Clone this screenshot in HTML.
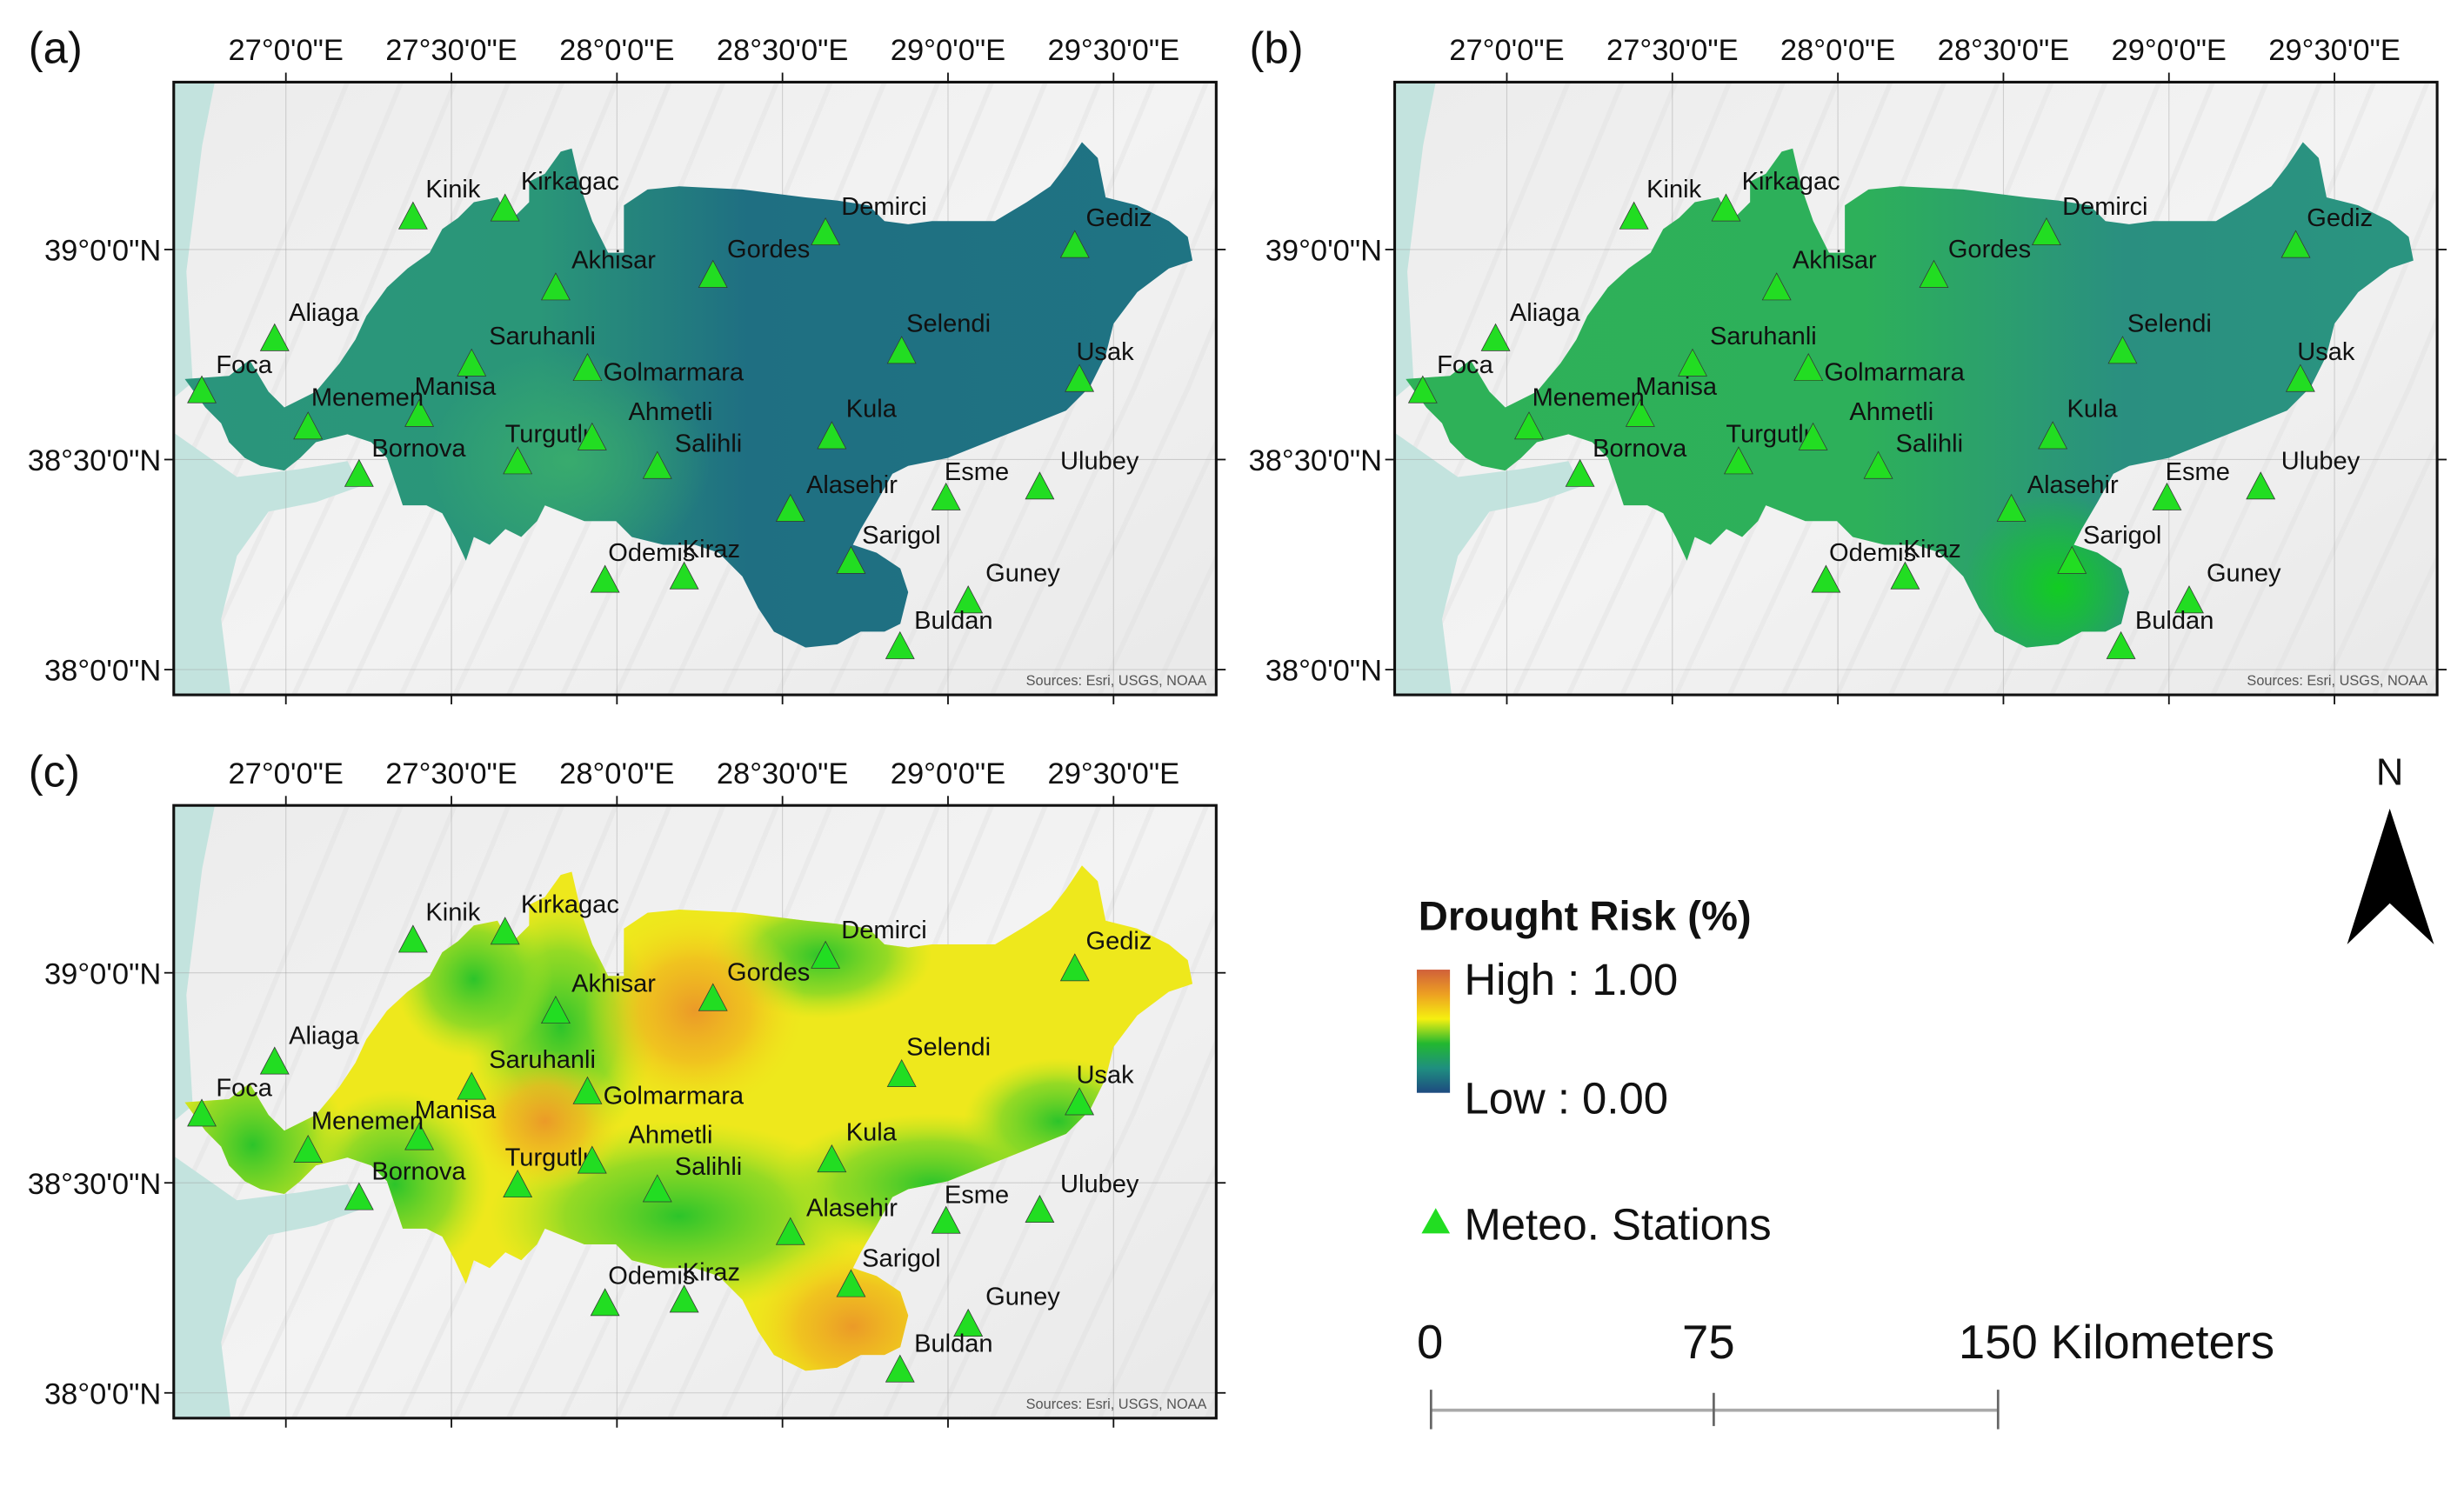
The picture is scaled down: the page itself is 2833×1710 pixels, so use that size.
<!DOCTYPE html>
<html><head><meta charset="utf-8">
<style>
html,body{margin:0;padding:0;background:#fff;}
svg{display:block;}
text{font-family:"Liberation Sans","DejaVu Sans",sans-serif;}
</style></head>
<body>
<svg id="fig" width="2833" height="1710" viewBox="0 0 1560 941.6" preserveAspectRatio="none" xmlns="http://www.w3.org/2000/svg">
<defs>
  <linearGradient id="gA" x1="0" y1="0" x2="1" y2="0">
    <stop offset="0" stop-color="#2a957c"/>
    <stop offset="0.35" stop-color="#2a9678"/>
    <stop offset="0.55" stop-color="#1f6f82"/>
    <stop offset="1" stop-color="#1f7483"/>
  </linearGradient>
  <radialGradient id="gA2" cx="0.5" cy="0.5" r="0.5">
    <stop offset="0" stop-color="#3aae6c" stop-opacity="0.9"/>
    <stop offset="1" stop-color="#3aae6c" stop-opacity="0"/>
  </radialGradient>
  <linearGradient id="gB" x1="0" y1="0" x2="1" y2="0">
    <stop offset="0" stop-color="#2eb158"/>
    <stop offset="0.45" stop-color="#2db05a"/>
    <stop offset="0.7" stop-color="#2a8f80"/>
    <stop offset="1" stop-color="#2a9580"/>
  </linearGradient>
  <radialGradient id="gB2" cx="0.5" cy="0.5" r="0.5">
    <stop offset="0" stop-color="#12cc22"/>
    <stop offset="1" stop-color="#12cc22" stop-opacity="0"/>
  </radialGradient>
  <radialGradient id="gGreen" cx="0.5" cy="0.5" r="0.5">
    <stop offset="0" stop-color="#2cc42a"/>
    <stop offset="0.6" stop-color="#6fd428" stop-opacity="0.7"/>
    <stop offset="1" stop-color="#afe420" stop-opacity="0"/>
  </radialGradient>
  <radialGradient id="gOrange" cx="0.5" cy="0.5" r="0.5">
    <stop offset="0" stop-color="#eb9a28"/>
    <stop offset="0.5" stop-color="#f0ba20" stop-opacity="0.8"/>
    <stop offset="1" stop-color="#f2e418" stop-opacity="0"/>
  </radialGradient>
  <linearGradient id="gLegend" x1="0" y1="0" x2="0" y2="1">
    <stop offset="0" stop-color="#d0603a"/>
    <stop offset="0.2" stop-color="#eda022"/>
    <stop offset="0.4" stop-color="#f5f010"/>
    <stop offset="0.6" stop-color="#22b830"/>
    <stop offset="0.8" stop-color="#1f8f80"/>
    <stop offset="1" stop-color="#1e4a80"/>
  </linearGradient>
  <linearGradient id="hill" x1="0" y1="0" x2="1" y2="1">
    <stop offset="0" stop-color="#ececec"/>
    <stop offset="0.5" stop-color="#f3f3f3"/>
    <stop offset="1" stop-color="#e9e9e9"/>
  </linearGradient>
</defs>
<g id="panels"></g>
<g id="legend">
  <text x="898" y="589" font-size="26" font-weight="bold" fill="#111">Drought Risk (%)</text>
  <rect x="897" y="614" width="21" height="78" fill="url(#gLegend)"/>
  <text x="927" y="630" font-size="28" fill="#111">High : 1.00</text>
  <text x="927" y="705" font-size="28" fill="#111">Low : 0.00</text>
  <polygon points="900,781 909,765 918,781" fill="#22dd22"/>
  <text x="927" y="785" font-size="28" fill="#111">Meteo. Stations</text>
  <text x="897" y="860" font-size="30" fill="#111">0</text>
  <text x="1065" y="860" font-size="30" fill="#111">75</text>
  <text x="1240" y="860" font-size="30" fill="#111">150 Kilometers</text>
  <g stroke="#666" stroke-width="1.5">
    <line x1="906" y1="893" x2="1265" y2="893" stroke="#aaa" stroke-width="2"/>
    <line x1="906" y1="880" x2="906" y2="905"/>
    <line x1="1085" y1="882" x2="1085" y2="903"/>
    <line x1="1265" y1="880" x2="1265" y2="905"/>
  </g>
  <text x="1513" y="497" font-size="24" text-anchor="middle" font-family="Liberation Serif,serif" fill="#111">N</text>
  <polygon points="1513,512 1486,598 1513,572 1541,598" fill="#000"/>
</g>
<script>
const stationNames=["Kinik","Kirkagac","Akhisar","Gordes","Demirci","Gediz","Aliaga","Foca","Saruhanli","Manisa","Menemen","Bornova","Golmarmara","Turgutlu","Ahmetli","Salihli","Kula","Selendi","Usak","Ulubey","Esme","Alasehir","Sarigol","Odemis","Kiraz","Guney","Buldan"];
const stationLon=[27.384,27.662,27.815,28.290,28.630,29.383,26.966,26.746,27.561,27.403,27.067,27.221,27.911,27.700,27.925,28.122,28.649,28.860,29.397,29.277,28.994,28.524,28.707,27.964,28.203,29.061,28.855];
const stationLat=[39.079,39.098,38.910,38.940,39.041,39.011,38.789,38.665,38.729,38.609,38.579,38.466,38.718,38.496,38.553,38.485,38.556,38.759,38.692,38.436,38.410,38.383,38.259,38.214,38.222,38.165,38.056];
const labelDx=[8,10,10,9,10,7,9,9,11,-3,2,8,10,-8,23,11,9,3,-2,13,-1,10,7,2,-1,11,9];
const labelDy=[-17,-17,-17,-16,-16,-17,-16,-16,-17,-17,-18,-16,3,-17,-16,-14,-17,-17,-17,-16,-16,-15,-16,-17,-17,-17,-16];
const lonTicks=[27.0,27.5,28.0,28.5,29.0,29.5];
const lonTickLabels=["27°0'0\"E","27°30'0\"E","28°0'0\"E","28°30'0\"E","29°0'0\"E","29°30'0\"E"];
const latTicks=[39.0,38.5,38.0];
const latTickLabels=["39°0'0\"N","38°30'0\"N","38°0'0\"N"];
const panelLabels=["(a)","(b)","(c)"];

const NS="http://www.w3.org/2000/svg";
const PW=660, PH=388;
const panelOrigins=[[110,52],[883,52],[110,510]];
function xScale(lon){return 71+(lon-27)*209.6;}
function yScale(lat){return 106+(39-lat)*266;}
function el(tag,attrs,parent){const e=document.createElementNS(NS,tag);for(const k in attrs)e.setAttribute(k,attrs[k]);if(parent)parent.appendChild(e);return e;}

const basin="M7,188 L35,186 L48,176 L60,196 L70,206 L90,196 L105,178 L115,163 L122,148 L135,130 L148,118 L162,108 L170,93 L180,86 L190,76 L205,73 L213,88 L225,76 L225,63 L235,58 L245,44 L252,42 L258,68 L265,88 L275,108 L285,108 L285,78 L300,68 L320,66 L360,68 L400,73 L420,75 L440,78 L450,88 L465,90 L480,88 L500,88 L520,88 L540,76 L555,66 L565,53 L575,38 L585,48 L590,73 L610,78 L630,88 L642,98 L645,113 L630,118 L610,133 L595,153 L590,173 L580,193 L565,208 L540,218 L515,228 L490,238 L465,243 L455,248 L445,266 L435,283 L430,293 L445,298 L460,308 L465,323 L460,343 L450,348 L435,348 L420,356 L400,358 L380,348 L370,333 L360,313 L345,298 L330,293 L310,293 L290,288 L280,278 L260,278 L235,268 L230,278 L220,288 L210,283 L200,293 L190,288 L185,303 L178,288 L170,273 L160,268 L145,268 L140,253 L135,238 L125,228 L110,223 L90,228 L80,238 L70,246 L55,243 L45,238 L35,228 L30,216 L20,206 Z";

const root=document.getElementById('panels');
panelOrigins.forEach((o,pi)=>{
  const [px,py]=o;
  const g=el('g',{transform:`translate(${px},${py})`},root);
  
  
  const cid='clip'+pi;
  const cp=el('clipPath',{id:cid},g); el('rect',{x:0,y:0,width:PW,height:PH},cp);
  const bcid='bclip'+pi;
  const bcp=el('clipPath',{id:bcid},g); el('path',{d:basin},bcp);
  const inner=el('g',{'clip-path':`url(#${cid})`},g);
  const bg=el('rect',{x:0,y:0,width:PW,height:PH,fill:'url(#hill)'},inner);
  
  
  for(let i=0;i<22;i++){
    el('path',{d:`M${i*34-60},${PH} L${i*34+30},${PH*0.5} L${i*34+110},0`,stroke:'#dedede','stroke-width':3,fill:'none',opacity:0.35},inner);
  }
  const sea=el('path',{d:"M0,0 L26,0 L18,40 L8,120 L12,190 L0,200 Z M0,222 L40,250 L80,245 L110,240 L118,256 L90,266 L60,272 L40,300 L30,340 L36,388 L0,388 Z",fill:'#c3e3de'},inner);
  
  
  lonTicks.forEach(t=>el('line',{x1:xScale(t),y1:0,x2:xScale(t),y2:PH,stroke:'#999','stroke-width':0.6,opacity:0.4},inner));
  latTicks.forEach(t=>el('line',{x1:0,y1:yScale(t),x2:PW,y2:yScale(t),stroke:'#999','stroke-width':0.6,opacity:0.4},inner));
  const bg2=el('g',{'clip-path':`url(#${bcid})`},inner);
  
  
  if(pi===0){
    el('rect',{x:0,y:0,width:PW,height:PH,fill:'url(#gA)'},bg2);
    el('ellipse',{cx:250,cy:240,rx:90,ry:70,fill:'url(#gA2)'},bg2);
  }else if(pi===1){
    el('rect',{x:0,y:0,width:PW,height:PH,fill:'url(#gB)'},bg2);
    el('ellipse',{cx:420,cy:320,rx:60,ry:60,fill:'url(#gB2)'},bg2);
  }else{
    el('rect',{x:0,y:0,width:PW,height:PH,fill:'#eee81c'},bg2);
    [[50,215,60,60],[245,140,60,80],[320,260,120,60],[480,240,100,45],[410,95,70,40],[560,200,60,40],[140,240,60,60],[190,110,50,50]].forEach(a=>el('ellipse',{cx:a[0],cy:a[1],rx:a[2],ry:a[3],fill:'url(#gGreen)'},bg2));
    [[330,130,70,65],[430,330,70,55],[235,200,50,45]].forEach(a=>el('ellipse',{cx:a[0],cy:a[1],rx:a[2],ry:a[3],fill:'url(#gOrange)'},bg2));
  }
  stationNames.forEach((n,i)=>{
    const x=xScale(stationLon[i]), y=yScale(stationLat[i]);
    const tri=el('polygon',{points:`${x-9},${y+8} ${x},${y-9} ${x+9},${y+8}`,fill:'#22dd22',stroke:'#333','stroke-width':0.4},inner);
    
    
    const t=el('text',{x:x+labelDx[i],y:y+labelDy[i]+5,'font-size':16,fill:'#111'},inner);
    t.textContent=n;
    
    
  });
  const src=el('text',{x:PW-6,y:PH-6,'font-size':9,'text-anchor':'end',fill:'#555'},inner);
  src.textContent='Sources: Esri, USGS, NOAA';
  
  
  const fr=el('rect',{x:0,y:0,width:PW,height:PH,fill:'none',stroke:'#111','stroke-width':1.7},g);
  
  
  lonTicks.forEach((t,i)=>{
    const x=xScale(t);
    el('line',{x1:x,y1:0,x2:x,y2:-6,stroke:'#111','stroke-width':1},g);
    el('line',{x1:x,y1:PH,x2:x,y2:PH+6,stroke:'#111','stroke-width':1},g);
    const tl=el('text',{x:x,y:-14,'font-size':19,'text-anchor':'middle',fill:'#111'},g);
    tl.textContent=lonTickLabels[i];
    
    
  });
  latTicks.forEach((t,i)=>{
    const y=yScale(t);
    el('line',{x1:0,y1:y,x2:-6,y2:y,stroke:'#111','stroke-width':1},g);
    el('line',{x1:PW,y1:y,x2:PW+6,y2:y,stroke:'#111','stroke-width':1},g);
    const tl=el('text',{x:-8,y:y+7,'font-size':19,'text-anchor':'end',fill:'#111'},g);
    tl.textContent=latTickLabels[i];
    
    
  });
  const pl=el('text',{x:-92,y:-12,'font-size':28,fill:'#111'},g);
  pl.textContent=panelLabels[pi];
  
  
});
</script>
</svg>
</body></html>
